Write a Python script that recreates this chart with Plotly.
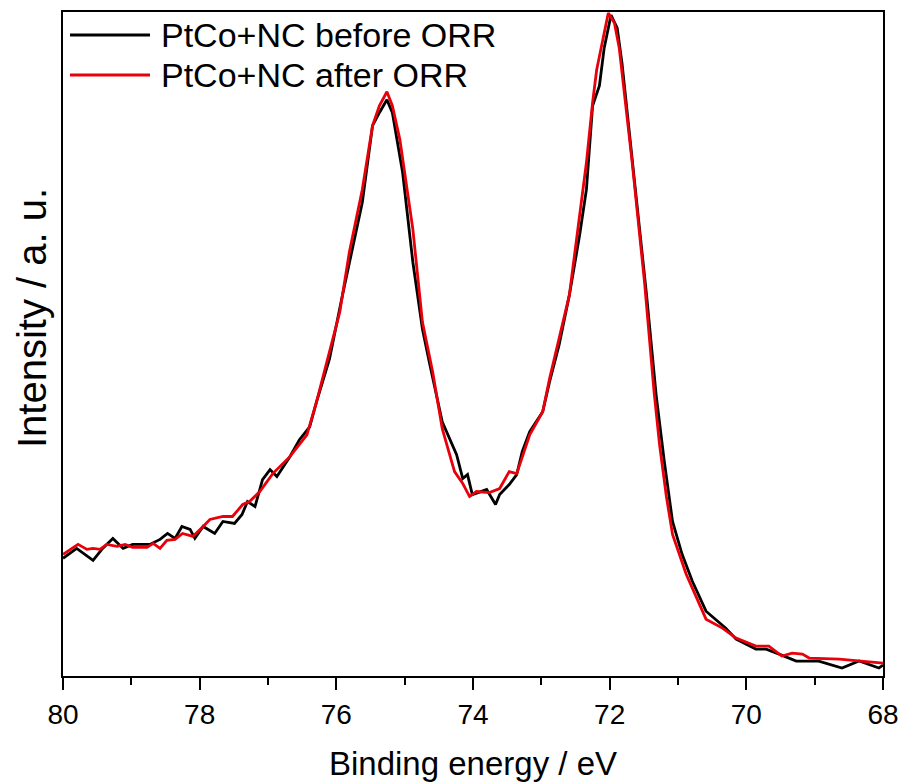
import plotly.graph_objects as go

# Binding energy (eV) and intensity (a.u.)
before_energy = [80.00, 79.80, 79.56, 79.42, 79.27, 79.12, 78.98, 78.73, 78.58, 78.47, 78.36, 78.26,
                 78.14, 78.07, 77.95, 77.78, 77.66, 77.49, 77.38, 77.30, 77.19, 77.08, 76.97, 76.87,
                 76.68, 76.54, 76.39, 76.29, 76.10, 75.91, 75.62, 75.47, 75.37, 75.26, 75.18, 75.03,
                 74.88, 74.74, 74.64, 74.45, 74.24, 74.15, 74.08, 74.01, 73.80, 73.67, 73.61, 73.47,
                 73.36, 73.28, 73.17, 72.98, 72.88, 72.74, 72.59, 72.44, 72.34, 72.25, 72.15, 72.08,
                 71.98, 71.89, 71.82, 71.61, 71.46, 71.32, 71.20, 71.08, 70.94, 70.79, 70.59, 70.30,
                 70.15, 69.86, 69.71, 69.52, 69.27, 68.94, 68.60, 68.35, 68.06, 68.00]
before_intensity = [118, 128, 116, 128, 138, 128, 132, 132, 137, 143, 138, 150,
                    147, 138, 150, 143, 155, 153, 162, 175, 170, 197, 207, 200,
                    220, 237, 250, 275, 318, 382, 475, 552, 565, 578, 565, 505,
                    415, 348, 315, 255, 222, 198, 202, 182, 187, 172, 182, 192,
                    202, 225, 245, 265, 295, 332, 382, 442, 488, 572, 592, 630,
                    663, 650, 615, 482, 382, 282, 215, 155, 122, 95, 65, 48,
                    37, 27, 27, 22, 15, 15, 8, 15, 8, 11]

after_energy = [80.00, 79.78, 79.65, 79.56, 79.46, 79.36, 79.21, 79.09, 78.98, 78.77, 78.68, 78.58,
                78.48, 78.36, 78.25, 78.10, 77.95, 77.85, 77.66, 77.52, 77.37, 77.27, 77.12, 76.93,
                76.68, 76.43, 76.29, 76.10, 75.95, 75.81, 75.62, 75.47, 75.37, 75.26, 75.18, 75.07,
                74.88, 74.74, 74.59, 74.45, 74.27, 74.15, 74.05, 73.95, 73.76, 73.61, 73.47, 73.36,
                73.17, 72.98, 72.88, 72.59, 72.34, 72.25, 72.19, 72.11, 72.02, 71.93, 71.86, 71.67,
                71.49, 71.35, 71.27, 71.17, 71.08, 70.88, 70.59, 70.35, 70.15, 69.86, 69.67, 69.48,
                69.33, 69.18, 69.08, 68.64, 68.06, 68.00]
after_intensity = [122, 132, 127, 128, 127, 132, 130, 132, 129, 129, 133, 128,
                   136, 137, 143, 140, 150, 157, 160, 160, 172, 175, 185, 203,
                   220, 242, 275, 325, 365, 425, 488, 552, 572, 586, 572, 538,
                   448, 355, 305, 248, 205, 193, 180, 185, 184, 188, 205, 203,
                   242, 265, 298, 382, 515, 575, 608, 635, 665, 655, 630, 515,
                   395, 285, 232, 180, 142, 102, 57, 48, 38, 30, 30, 20,
                   23, 22, 18, 17, 13, 13]

x_ticks = [80, 78, 76, 74, 72, 70, 68]
series_names = ["PtCo+NC before ORR", "PtCo+NC after ORR"]
series_colors = ["#000000", "#e8000b"]

FONT = "Liberation Sans, Arial, sans-serif"

fig = go.Figure()
fig.add_trace(go.Scatter(x=before_energy, y=before_intensity, mode="lines", name=series_names[0],
                         line=dict(color=series_colors[0], width=2.8), showlegend=False))
fig.add_trace(go.Scatter(x=after_energy, y=after_intensity, mode="lines", name=series_names[1],
                         line=dict(color=series_colors[1], width=2.8), showlegend=False))

# Legend drawn inside the top-left corner of the frame (plot area: 820 x 664 px)
PW, PH = 820, 664
legend_rows_px = [23, 63]  # distance of each row from the plot top
shapes = []
annotations = []
for name, color, dy in zip(series_names, series_colors, legend_rows_px):
    yy = 1 - dy / PH
    shapes.append(dict(type="line", xref="paper", yref="paper", x0=7 / PW, x1=87 / PW,
                       y0=yy, y1=yy, line=dict(color=color, width=2.8)))
    annotations.append(dict(text=name, showarrow=False, xref="paper", yref="paper",
                            x=96 / PW, y=yy, xanchor="left", yanchor="middle",
                            font=dict(size=34, family=FONT, color="black")))

annotations.append(dict(text="Intensity / a. u.", textangle=-90, showarrow=False,
                        xref="paper", yref="paper", x=-31 / PW, y=(664 - 306) / PH,
                        xanchor="center", yanchor="middle",
                        font=dict(size=40, family=FONT, color="black")))

# The page shows the figure 8 px in from the top-left corner, so the figure is 8 px smaller
fig.update_layout(
    width=898, height=774,
    margin=dict(l=55, r=23, t=4, b=106),
    paper_bgcolor="white", plot_bgcolor="white",
    font=dict(family=FONT, color="black"),
    showlegend=False,
    shapes=shapes,
    annotations=annotations,
    xaxis=dict(
        range=[80, 68], tickvals=x_ticks, ticktext=[str(t) for t in x_ticks],
        ticks="outside", ticklen=12, tickwidth=2, tickcolor="black",
        minor=dict(dtick=1, ticks="outside", ticklen=7, tickwidth=2, tickcolor="black"),
        showline=True, linewidth=2, linecolor="black", mirror=True,
        showgrid=False, zeroline=False, automargin=False,
        tickfont=dict(size=28, family=FONT),
        title=dict(text="Binding energy / eV", font=dict(size=33, family=FONT), standoff=24),
    ),
    yaxis=dict(
        range=[0, 666], showticklabels=False, ticks="",
        showline=True, linewidth=2, linecolor="black", mirror=True,
        showgrid=False, zeroline=False, automargin=False,
    ),
)

fig.write_html("out.html")
